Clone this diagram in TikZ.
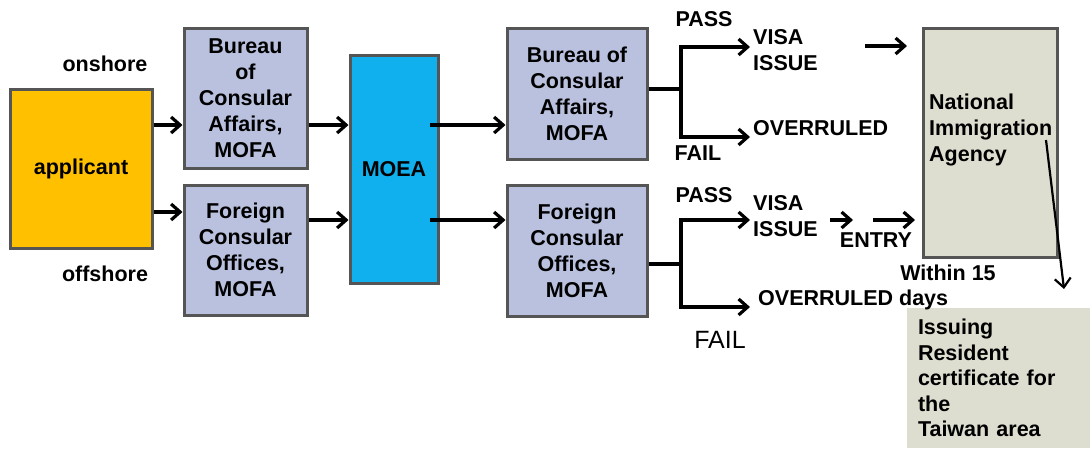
\documentclass[tikz,border=0pt]{standalone}
\usepackage{fontspec}
\setmainfont{Liberation Sans}
\usetikzlibrary{arrows.meta}
\definecolor{orangefill}{RGB}{255,192,0}
\definecolor{bluegray}{RGB}{185,193,222}
\definecolor{moeablue}{RGB}{16,176,238}
\definecolor{khaki}{RGB}{221,221,208}
\definecolor{boxline}{RGB}{85,85,85}
\begin{document}
\begin{tikzpicture}[x=1pt,y=-1pt,
  bx/.style={draw=boxline, line width=3pt, rectangle, inner sep=0pt, align=center,
    font=\fontsize{21.5}{26}\selectfont\bfseries},
  lbl/.style={inner sep=0pt, font=\fontsize{21.5}{26}\selectfont\bfseries},
  arr/.style={line width=3.2pt, -{Straight Barb[length=9pt,width=16pt,line width=3.2pt]}},
  ln/.style={line width=3.2pt}]
\useasboundingbox (0,0) rectangle (1090,448);
% boxes
\node[bx, fill=orangefill, minimum width=142, minimum height=159] (app) at (81,168.5) {applicant};
\node[bx, fill=bluegray, minimum width=123, minimum height=140] (bu1) at (245.5,98) {Bureau\\of\\Consular\\Affairs,\\MOFA};
\node[bx, fill=bluegray, minimum width=123, minimum height=130] (fo1) at (245.5,250) {Foreign\\Consular\\Offices,\\MOFA};
\node[bx, fill=moeablue, minimum width=88, minimum height=228] (moea) at (394,169) {MOEA};
\node[bx, fill=bluegray, minimum width=140, minimum height=131] (bu2) at (577,93.5) {Bureau of\\Consular\\Affairs,\\MOFA};
\node[bx, fill=bluegray, minimum width=140, minimum height=131] (fo2) at (577,250.5) {Foreign\\Consular\\Offices,\\MOFA};
\node[bx, fill=khaki, minimum width=134, minimum height=229] (nia) at (990,142.5) {};
\node[lbl, anchor=north west, align=left] (niat) at (929,94) {National\\Immigration\\Agency};
\node[fill=khaki, minimum width=183, minimum height=140, inner sep=0pt, text width=161, align=left,
  font=\fontsize{21.5}{25.5}\selectfont\bfseries] (iss) at (998.5,378)
  {Issuing\\Resident\\certificate for\\the\\Taiwan area};
% labels
\node[lbl] (on) at (105,64) {onshore};
\node[lbl] (off) at (105,274) {offshore};
\node[lbl] (pass1) at (704,19) {PASS};
\node[lbl] (fail1) at (698,153) {FAIL};
\node[lbl, anchor=west, align=left] (visa1) at (753,50.5) {VISA\\ISSUE};
\node[lbl, anchor=west] (over1) at (753,128) {OVERRULED};
\node[lbl] (pass2) at (704,195) {PASS};
\node[lbl, anchor=west, align=left] (visa2) at (753,216.5) {VISA\\ISSUE};
\node[lbl] (entry) at (876,240) {ENTRY};
\node[lbl] (within) at (948,273) {Within 15};
\node[lbl, anchor=west] (over2) at (758,300) {OVERRULED days};
\node[inner sep=0pt, font=\fontsize{25}{30}\selectfont] (fail2) at (720,340) {FAIL};
% coordinates
\coordinate (m1) at (430,125);
\coordinate (m2) at (430,220);
\coordinate (j1) at (681,89);
\coordinate (j1a) at (681,47);
\coordinate (j1b) at (681,137);
\coordinate (t1a) at (750,47);
\coordinate (t1b) at (750,137);
\coordinate (j2) at (681,264);
\coordinate (j2a) at (681,220);
\coordinate (j2b) at (681,307);
\coordinate (t2a) at (750,220);
\coordinate (t2b) at (750,307);
\coordinate (n1s) at (865,46);
\coordinate (n1e) at (907,46);
\coordinate (e1s) at (830,220);
\coordinate (e1e) at (853,220);
\coordinate (e2s) at (873,220);
\coordinate (e2e) at (915,220);
\coordinate (ds) at (1046,140);
\coordinate (de) at (1064,289);
% connectors
\draw[arr] (app.east |- 0,125) -- (bu1.west |- 0,125);
\draw[arr] (app.east |- 0,212) -- (fo1.west |- 0,212);
\draw[arr] (bu1.east |- 0,125) -- (moea.west |- 0,125);
\draw[arr] (fo1.east |- 0,220) -- (moea.west |- 0,220);
\draw[arr] (m1) -- (bu2.west |- m1);
\draw[arr] (m2) -- (fo2.west |- m2);
\draw[ln] (bu2.east |- j1) -- (j1);
\draw[arr] (j1) -- (j1a) -- (t1a);
\draw[arr] (j1) -- (j1b) -- (t1b);
\draw[ln] (fo2.east |- j2) -- (j2);
\draw[arr] (j2) -- (j2a) -- (t2a);
\draw[arr] (j2) -- (j2b) -- (t2b);
\draw[arr] (n1s) -- (n1e);
\draw[arr] (e1s) -- (e1e);
\draw[arr] (e2s) -- (e2e);
\draw[line width=2.2pt, -{Straight Barb[length=9pt,width=16pt,line width=2.2pt]}] (ds) -- (de);
\end{tikzpicture}
\end{document}
